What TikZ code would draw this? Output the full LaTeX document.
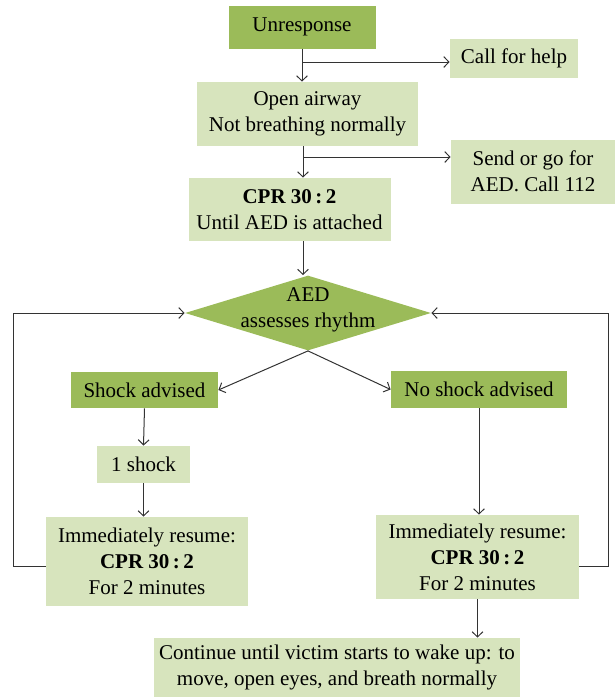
\documentclass[tikz,border=0pt]{standalone}
\usepackage{fontspec}
\setmainfont{Liberation Serif}
\usepackage{tikz}
\usetikzlibrary{shapes.geometric,arrows.meta}
\definecolor{darkgreen}{HTML}{9BBB59}
\definecolor{lightgreen}{HTML}{D7E4BD}

\begin{document}
\begin{tikzpicture}[x=0.5pt,y=-0.5pt,
   font=\fontsize{10.5}{13}\selectfont,
   >={Straight Barb[length=2.6pt,width=5.4pt]},
   dark/.style={fill=darkgreen,align=center,inner sep=0pt},
   light/.style={fill=lightgreen,align=center,inner sep=0pt},
   flow/.style={->,line width=0.5pt,draw=black!80}]
\useasboundingbox (0,0) rectangle (616,697);
\node[dark,minimum width=73.5pt,minimum height=21.5pt] (unresp) at (302,27) {Unresponse};
\node[light,minimum width=64pt,minimum height=19.5pt] (help) at (514,58.5) {Call for help};
\node[light,minimum width=110.5pt,minimum height=32pt] (airway) at (307.5,114) {Open airway\\Not breathing normally};
\node[light,minimum width=82pt,minimum height=32pt] (send) at (533,171.5) {Send or go for\\AED. Call 112};
\node[light,minimum width=101pt,minimum height=31.5pt] (cpra) at (289.5,209.5) {\textbf{CPR 30\,:\,2}\\Until AED is attached};
\node[dark,diamond,minimum width=123pt,minimum height=37.5pt,
   label={[align=center,yshift=1.5pt]center:AED\\assesses rhythm}] (aed) at (308,313) {};
\node[dark,minimum width=73.5pt,minimum height=18pt] (shock) at (144.5,390) {Shock advised};
\node[dark,minimum width=88pt,minimum height=18.5pt] (noshock) at (479,389.5) {No shock advised};
\node[light,minimum width=46.5pt,minimum height=18.5pt] (one) at (143.5,464.5) {1 shock};
\node[light,minimum width=101pt,minimum height=44.5pt] (cprl) at (147,561.5) {Immediately resume:\\\textbf{CPR 30\,:\,2}\\For 2 minutes};
\node[light,minimum width=101.5pt,minimum height=42pt] (cprr) at (477.5,557) {Immediately resume:\\\textbf{CPR 30\,:\,2}\\For 2 minutes};
\node[light,minimum width=183pt,minimum height=29.5pt] (cont) at (337,667.5) {Continue until victim starts to wake up: to\\move, open eyes, and breath normally};

\coordinate (b1) at (302,62);
\coordinate (b2) at (303,157);
\draw[flow] (unresp.south) -- (unresp.south |- airway.north);
\draw[flow] (b1) -- (b1 -| help.west);
\draw[flow] (b2 |- airway.south) -- (b2 |- cpra.north);
\draw[flow] (b2) -- (b2 -| send.west);
\draw[flow] (b2 |- cpra.south) -- (b2 |- aed.north);
\draw[flow] (aed.south) -- (shock.east);
\draw[flow] (aed.south) -- (noshock.west);
\draw[flow] (shock.south) -- (one.north);
\draw[flow] (one.south) -- (one.south |- cprl.north);
\draw[flow] (noshock.south) -- (noshock.south |- cprr.north);
\draw[flow] (cprr.south) -- (cprr.south |- cont.north);
\draw[flow] ([yshift=-2.5pt]cprl.west) -- ++(-32,0) |- (aed.west);
\draw[flow] ([yshift=-4.5pt]cprr.east) -- ++(29,0) |- (aed.east);
\end{tikzpicture}
\end{document}
